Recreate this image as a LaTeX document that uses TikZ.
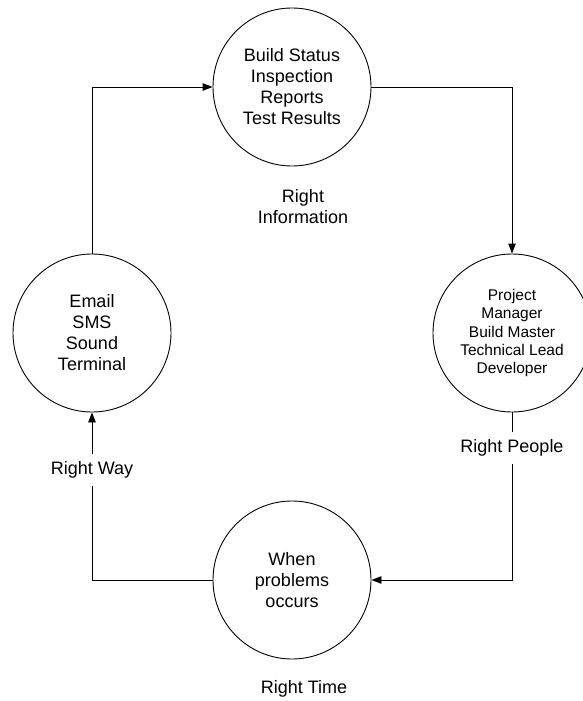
\documentclass[tikz,border=0pt]{standalone}
\usepackage{fontspec}
\setmainfont{Liberation Sans}
\usetikzlibrary{arrows.meta}

\begin{document}
\begin{tikzpicture}[x=1pt,y=-1pt,
  stage/.style={circle, draw, line width=0.9pt, minimum size=158pt, inner sep=0pt,
    align=center, font=\fontsize{18}{21}\selectfont},
  tag/.style={align=center, inner sep=7pt, font=\fontsize{18}{21}\selectfont},
  flow/.style={line width=0.9pt, -{Triangle[length=10pt,width=7.5pt]}},
  plain/.style={line width=0.9pt}]
\useasboundingbox (0,0) rectangle (583,701);
%\draw [help lines] (0,0) grid (583,701);
\node [stage] (info) at (292,87) {Build Status\\Inspection\\Reports\\Test Results};
\node [stage, font=\fontsize{15.5}{18.2}\selectfont] (people) at (512,333) {Project\\Manager\\Build Master\\Technical Lead\\Developer};
\node [stage] (when) at (292,580) {When\\problems\\occurs};
\node [stage] (way) at (92,333) {Email\\SMS\\Sound\\Terminal};
\node [tag] (rinfo) at (303,207) {Right\\Information};
\node [tag] (rpeople) at (512,448) {Right People};
\node [tag] (rtime) at (304,689) {Right Time};
\node [tag] (rway) at (92,470) {Right Way};
\draw [flow] (way.north) |- (info.west);
\draw [flow] (info.east) -| (people.north);
\draw [plain] (people.south) -- (rpeople.north);
\draw [flow] (rpeople.south) |- (when.east);
\draw [plain] (when.west) -| (rway.south);
\draw [flow] (rway.north) -- (way.south);
\end{tikzpicture}
\end{document}
